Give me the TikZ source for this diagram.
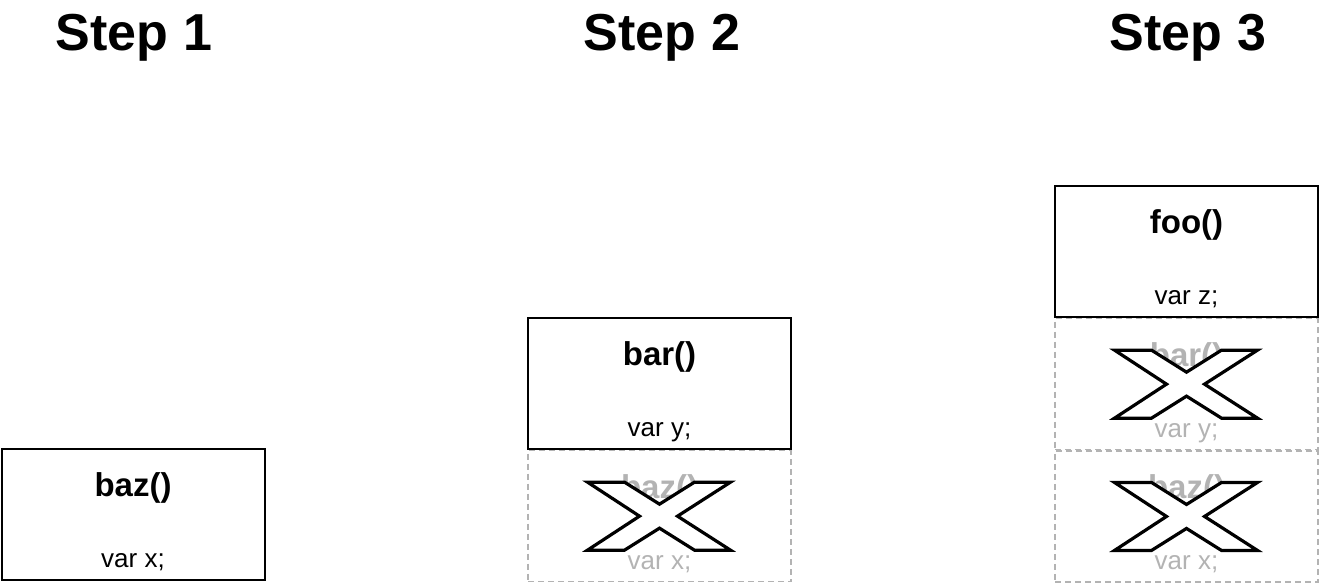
\documentclass[tikz,border=0pt]{standalone}
\usepackage{fontspec}
\setmainfont{Liberation Sans}
\usetikzlibrary{positioning}
\definecolor{fadegray}{HTML}{B3B3B3}
\tikzstyle{frame}=[draw=black,line width=2pt,fill=white,minimum width=263pt,minimum height=131pt,inner sep=0pt]
\tikzstyle{ghost}=[draw=fadegray,line width=1.3pt,dash pattern=on 6pt off 4pt,minimum width=263pt,minimum height=131pt,inner sep=0pt]
\tikzstyle{title}=[font=\fontsize{52}{60}\selectfont\bfseries,anchor=base]
\tikzstyle{fname}=[font=\fontsize{33}{38}\selectfont\bfseries,anchor=base]
\tikzstyle{fvar}=[font=\fontsize{26}{31}\selectfont,anchor=base]
\tikzstyle{cross}=[draw=black,line width=3.2pt,fill=white,line join=miter]
\newcommand{\dropmark}[1]{%
  \draw[cross,shift={(#1)}] (-72,-34) -- (-35,-34) -- (0,-12) -- (35,-34) -- (71,-34)
    -- (18,0) -- (71,34) -- (35,34) -- (0,12) -- (-35,34) -- (-72,34) -- (-20,0) -- cycle;}

\begin{document}
\begin{tikzpicture}[x=1pt,y=-1pt]
        \useasboundingbox (0,0) rectangle (1320,582);
        % titles
        \node[title] (s1) at (134,50) {Step 1};
        \node[title] (s2) at (662,50) {Step 2};
        \node[title] (s3) at (1188,50) {Step 3};
        % step 1
        \node[frame] (baz1) at (133,514.5) {};
        \node[fname] (baz1n) at ([yshift=-48pt]baz1.north) {baz()};
        \node[fvar] (baz1v) at ([yshift=-119pt]baz1.north) {var x;};
        % step 2
        \node[frame] (bar2) at (659.5,383.5) {};
        \node[ghost,anchor=north] (baz2) at (bar2.south) {};
        \node[fname] (bar2n) at ([yshift=-48pt]bar2.north) {bar()};
        \node[fvar] (bar2v) at ([yshift=-119pt]bar2.north) {var y;};
        \node[fname,fadegray] (baz2n) at ([yshift=-48pt]baz2.north) {baz()};
        \node[fvar,fadegray] (baz2v) at ([yshift=-119pt]baz2.north) {var x;};
        \dropmark{baz2.center}
        % step 3
        \node[frame] (foo3) at (1186.5,251.5) {};
        \node[ghost,anchor=north] (bar3) at (foo3.south) {};
        \node[ghost,anchor=north] (baz3) at (bar3.south) {};
        \node[fname] (foo3n) at ([yshift=-48pt]foo3.north) {foo()};
        \node[fvar] (foo3v) at ([yshift=-119pt]foo3.north) {var z;};
        \node[fname,fadegray] (bar3n) at ([yshift=-48pt]bar3.north) {bar()};
        \node[fvar,fadegray] (bar3v) at ([yshift=-119pt]bar3.north) {var y;};
        \node[fname,fadegray] (baz3n) at ([yshift=-48pt]baz3.north) {baz()};
        \node[fvar,fadegray] (baz3v) at ([yshift=-119pt]baz3.north) {var x;};
        \dropmark{bar3.center}
        \dropmark{baz3.center}
\end{tikzpicture}
\end{document}
